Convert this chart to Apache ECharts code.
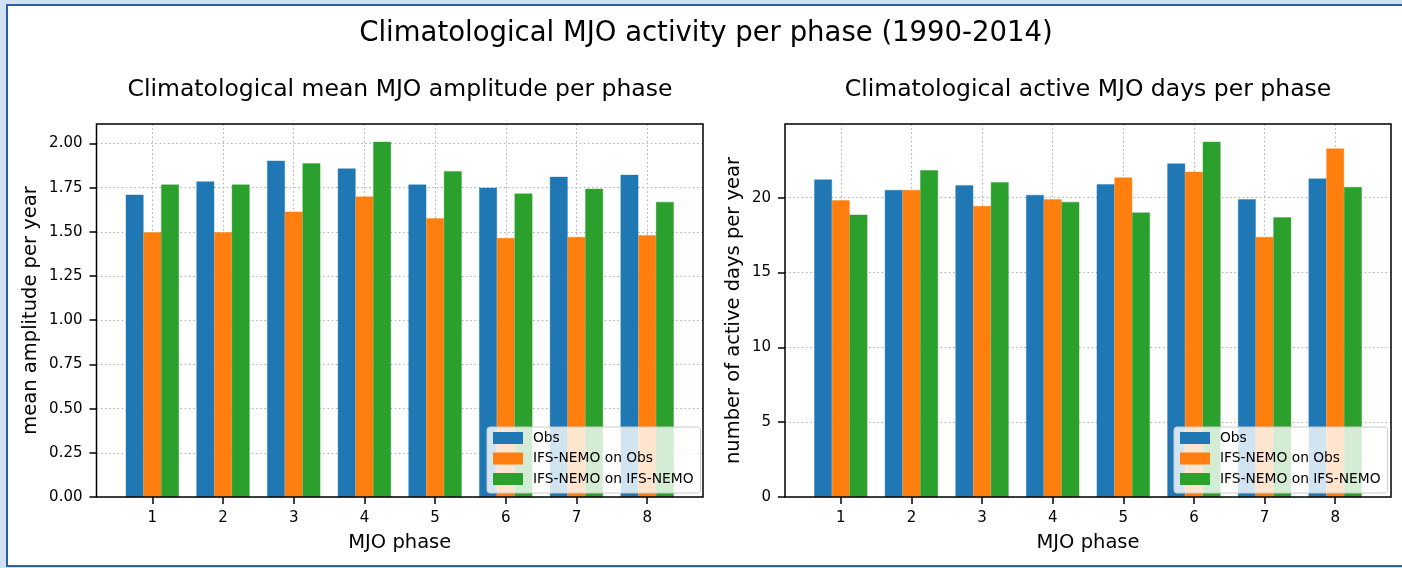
<!DOCTYPE html>
<html>
<head>
<meta charset="utf-8">
<script src="https://cdn.jsdelivr.net/npm/echarts@6/dist/echarts.min.js"></script>
<style>
  html, body { margin: 0; padding: 0; }
  body { width: 1402px; height: 568px; background: #cfe1f3; position: relative; overflow: hidden; }
  #frame { position: absolute; left: 6px; top: 4px; width: 1400px; height: 559px;
           background: #fff; border-left: 2px solid #2d60a3; border-top: 2px solid #2d60a3; border-bottom: 2px solid #2d60a3; }
  #chart { position: absolute; left: 0; top: 0; width: 1402px; height: 568px; }
</style>
</head>
<body>
<div id="frame"></div>
<div id="chart"></div>
<script>
// MJO phases (x categories)
const phases = [1, 2, 3, 4, 5, 6, 7, 8];
const seriesNames = ['Obs', 'IFS-NEMO on Obs', 'IFS-NEMO on IFS-NEMO'];
const colors = ['#1f77b4', '#ff7f0e', '#2ca02c'];

// left panel: mean amplitude per phase
const ampObs      = [1.710, 1.785, 1.902, 1.858, 1.767, 1.749, 1.811, 1.822];
const ampNemoObs  = [1.497, 1.497, 1.614, 1.699, 1.577, 1.465, 1.471, 1.480];
const ampNemoNemo = [1.767, 1.767, 1.887, 2.009, 1.843, 1.716, 1.743, 1.669];
const ampTicks = [0, 0.25, 0.5, 0.75, 1.0, 1.25, 1.5, 1.75, 2.0];

// right panel: active days per phase
const daysObs      = [21.21, 20.51, 20.83, 20.18, 20.89, 22.28, 19.89, 21.27];
const daysNemoObs  = [19.82, 20.51, 19.44, 19.89, 21.34, 21.72, 17.37, 23.28];
const daysNemoNemo = [18.86, 21.83, 21.03, 19.71, 19.00, 23.73, 18.68, 20.71];
const dayTicks = [0, 5, 10, 15, 20];

const FONT = 'DejaVu Sans';
// panel boxes (pixels)
const panels = [
    {left: 96.5, top: 124, width: 606.5, height: 373},
    {left: 785, top: 124, width: 606, height: 373}
];

const chart = echarts.init(document.getElementById('chart'), null, {renderer: 'canvas'});

const pairs = vals => vals.map((v, i) => [phases[i], v]);
const gridLine = {show: true, lineStyle: {color: '#b0b0b0', type: [1.6, 2.6], width: 1}};

function xAxisCfg(gi) {
    return {
        type: 'value', gridIndex: gi, min: 0.21, max: 8.79,
        name: 'MJO phase', nameLocation: 'middle', nameGap: 36,
        nameTextStyle: {fontFamily: FONT, fontSize: 19.5, color: '#000'},
        axisLine: {show: false},
        axisTick: {show: true, length: 7, customValues: phases, lineStyle: {color: '#000', width: 1.5}},
        axisLabel: {customValues: phases, margin: 14, fontFamily: FONT, fontSize: 15, color: '#000'},
        splitLine: gridLine
    };
}
function yAxisCfg(gi, name, max, ticks, gap, fmt) {
    return {
        type: 'value', gridIndex: gi, min: 0, max: max,
        name: name, nameLocation: 'middle', nameGap: gap,
        nameTextStyle: {fontFamily: FONT, fontSize: 19.5, color: '#000'},
        axisLine: {show: false},
        axisTick: {show: true, length: 7, customValues: ticks, lineStyle: {color: '#000', width: 1.5}},
        axisLabel: {customValues: ticks, margin: 14, fontFamily: FONT, fontSize: 15, color: '#000', formatter: fmt},
        splitLine: gridLine
    };
}
function legendCfg(left) {
    return {
        orient: 'vertical', left: left, top: 427,
        data: seriesNames, icon: 'rect', itemWidth: 28, itemHeight: 10, itemGap: 6.5,
        padding: [4, 7, 7, 6],
        backgroundColor: 'rgba(255,255,255,0.8)', borderColor: '#cccccc', borderWidth: 1, borderRadius: 3,
        textStyle: {fontFamily: FONT, fontSize: 13.8, color: '#000', lineHeight: 14, padding: [0, 0, 0, 6]},
        selectedMode: false
    };
}
function barSeries(name, vals, color, gi) {
    return {
        type: 'bar', name: name, xAxisIndex: gi, yAxisIndex: gi,
        data: pairs(vals), barWidth: 17.7, barGap: '0%',
        itemStyle: {color: color, borderColor: color, borderWidth: 0.4}
    };
}
function titleCfg(text, x, top, size) {
    return {text: text, left: x, textAlign: 'center', top: top,
            textStyle: {fontFamily: FONT, fontSize: size, fontWeight: 'normal', color: '#000', lineHeight: size}};
}

const option = {
    animation: false,
    title: [
        titleCfg('Climatological MJO activity per phase (1990-2014)', 701, 15, 27.5),
        titleCfg('Climatological mean MJO amplitude per phase', 395, 73, 23.5),
        titleCfg('Climatological active MJO days per phase', 1083, 73, 23.5)
    ],
    grid: panels.map(p => Object.assign({show: false}, p)),
    // axes spines drawn on top of the bars
    graphic: panels.map(p => ({
        type: 'rect', z: 50, silent: true,
        shape: {x: p.left, y: p.top, width: p.width, height: p.height},
        style: {fill: null, stroke: '#000', lineWidth: 1.5}
    })),
    legend: [legendCfg(487), legendCfg(1174)],
    xAxis: [xAxisCfg(0), xAxisCfg(1)],
    yAxis: [
        yAxisCfg(0, 'mean amplitude per year', 2.11, ampTicks, 56, v => v.toFixed(2)),
        yAxisCfg(1, 'number of active days per year', 24.92, dayTicks, 41, v => String(v))
    ],
    series: [
        barSeries(seriesNames[0], ampObs, colors[0], 0),
        barSeries(seriesNames[1], ampNemoObs, colors[1], 0),
        barSeries(seriesNames[2], ampNemoNemo, colors[2], 0),
        barSeries(seriesNames[0], daysObs, colors[0], 1),
        barSeries(seriesNames[1], daysNemoObs, colors[1], 1),
        barSeries(seriesNames[2], daysNemoNemo, colors[2], 1)
    ]
};
chart.setOption(option);
</script>
</body>
</html>
